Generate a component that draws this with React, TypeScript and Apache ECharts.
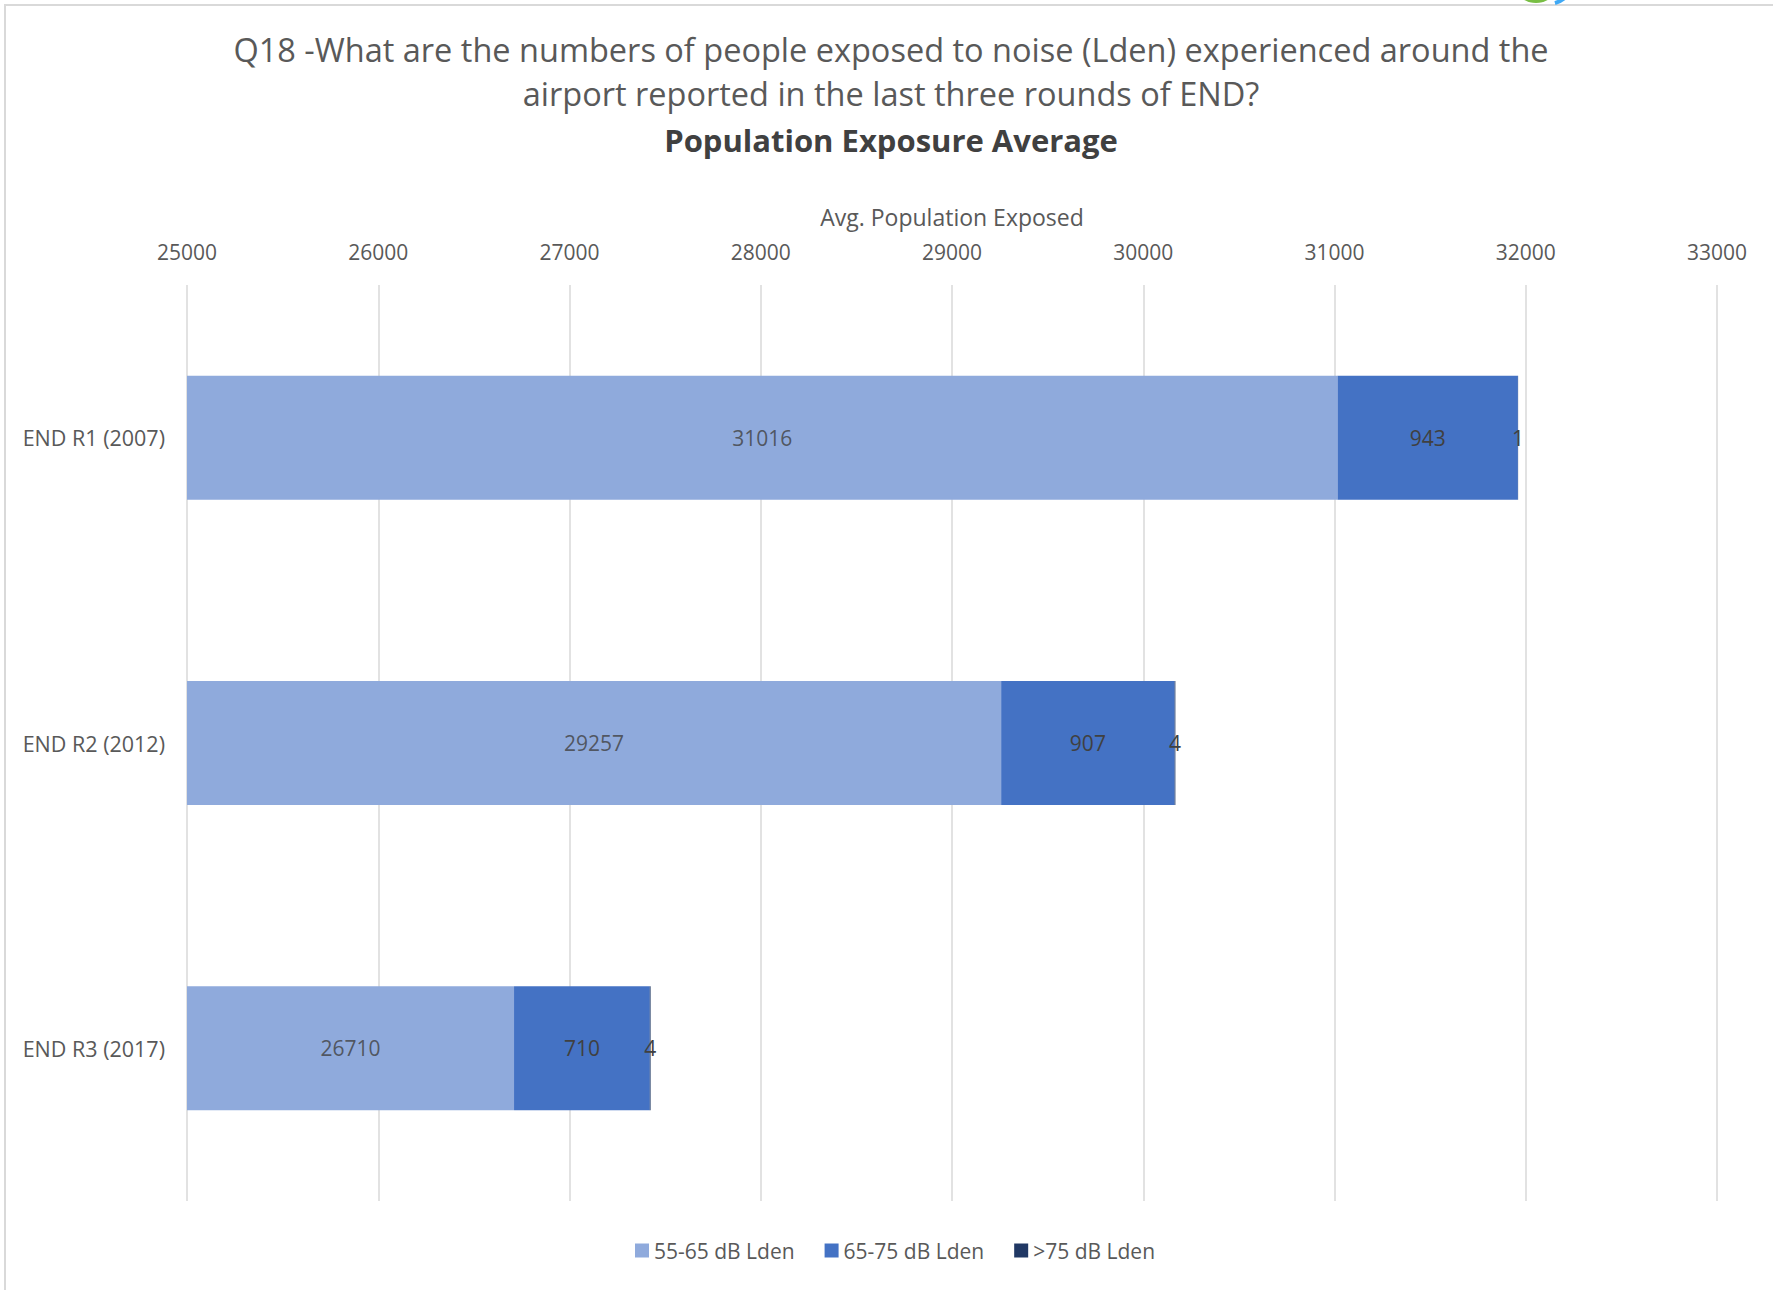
import React, { useEffect, useRef } from "react";
import * as echarts from "echarts";

const categories = ["END R1 (2007)", "END R2 (2012)", "END R3 (2017)"];
const seriesNames = ["55-65 dB Lden", "65-75 dB Lden", ">75 dB Lden"];
const band55to65 = [31016, 29257, 26710];
const band65to75 = [943, 907, 710];
const bandOver75 = [1, 4, 4];
const axisTicks = [25000, 26000, 27000, 28000, 29000, 30000, 31000, 32000, 33000];

const titleLine1 = "Q18 -What are the numbers of people exposed to noise (Lden) experienced around the";
const titleLine2 = "airport reported in the last three rounds of END?";
const titleLine3 = "Population Exposure Average";
const axisName = "Avg. Population Exposed";

const FONT = "'Open Sans', 'Noto Sans', sans-serif";

export default function App() {
  const ref = useRef<HTMLDivElement>(null);
  useEffect(() => {
    if (!ref.current) return;
    const chart = echarts.init(ref.current, null, { renderer: "svg" });
    const axisMin = axisTicks[0];
    const axisMax = axisTicks[axisTicks.length - 1];
    const interval = axisTicks[1] - axisTicks[0];
    const labelStyle = { color: "#404040", fontSize: 21, fontFamily: FONT };
    const option: any = {
      animation: false,
      backgroundColor: "#ffffff",
      textStyle: { fontFamily: FONT },
      graphic: [
        {
          type: "rect",
          z: -10,
          shape: { x: 5, y: 5, width: 1900, height: 1400 },
          style: { fill: "none", stroke: "#d9d9d9", lineWidth: 2 },
        },
        {
          type: "circle",
          shape: { cx: 1536, cy: -21, r: 24 },
          style: { fill: "#78be43" },
        },
        {
          type: "arc",
          shape: { cx: 1548, cy: -22, r: 26, startAngle: 0.2, endAngle: 1.3 },
          style: { stroke: "#3fa9f5", lineWidth: 4, fill: "none" },
        },
        {
          type: "text",
          x: 891,
          y: 49,
          style: {
            text: titleLine1,
            font: `32.5px ${FONT}`,
            fill: "#595959",
            textAlign: "center",
            textVerticalAlign: "middle",
          },
        },
        {
          type: "text",
          x: 891,
          y: 93,
          style: {
            text: titleLine2,
            font: `32.5px ${FONT}`,
            fill: "#595959",
            textAlign: "center",
            textVerticalAlign: "middle",
          },
        },
        {
          type: "text",
          x: 891,
          y: 140,
          style: {
            text: titleLine3,
            font: `bold 31px ${FONT}`,
            fill: "#404040",
            textAlign: "center",
            textVerticalAlign: "middle",
          },
        },
      ],
      grid: { left: 187, right: 56, top: 285, bottom: 89, containLabel: false },
      xAxis: {
        type: "value",
        position: "top",
        min: axisMin,
        max: axisMax,
        interval: interval,
        name: axisName,
        nameLocation: "middle",
        nameGap: 57,
        nameTextStyle: { color: "#595959", fontSize: 23, fontFamily: FONT },
        axisLine: { show: false },
        axisTick: { show: false },
        axisLabel: {
          color: "#595959",
          fontSize: 21,
          fontFamily: FONT,
          margin: 23,
          formatter: (v: number) => String(v),
        },
        splitLine: { show: true, lineStyle: { color: "#d9d9d9", width: 1.5 } },
      },
      yAxis: {
        type: "category",
        data: categories,
        inverse: true,
        axisLine: { show: false },
        axisTick: { show: false },
        axisLabel: { color: "#595959", fontSize: 21.5, fontFamily: FONT, margin: 22 },
        splitLine: { show: false },
      },
      legend: {
        data: seriesNames,
        bottom: 24,
        left: 630,
        itemWidth: 14,
        itemHeight: 14,
        itemGap: 30,
        icon: "rect",
        textStyle: { color: "#595959", fontSize: 21, fontFamily: FONT, padding: [0, 0, 0, 0] },
      },
      series: [
        {
          name: seriesNames[0],
          type: "bar",
          stack: "total",
          barWidth: "40.6%",
          clip: true,
          itemStyle: { color: "#8faadc" },
          label: { show: false },
          data: band55to65,
        },
        {
          name: seriesNames[1],
          type: "bar",
          stack: "total",
          clip: true,
          itemStyle: { color: "#4472c4" },
          label: { show: true, position: "inside", ...labelStyle },
          data: band65to75,
        },
        {
          name: seriesNames[2],
          type: "bar",
          stack: "total",
          clip: true,
          itemStyle: { color: "#203864" },
          label: { show: true, position: "inside", ...labelStyle },
          data: bandOver75,
        },
        {
          name: "labels",
          type: "scatter",
          symbolSize: 0,
          silent: true,
          z: 10,
          label: {
            show: true,
            position: "inside",
            ...labelStyle,
            formatter: (p: any) => String(band55to65[p.dataIndex]),
          },
          data: band55to65.map((v, i) => [(axisMin + v) / 2, i]),
        },
      ],
    };
    chart.setOption(option);
    return () => chart.dispose();
  }, []);
  return (
    <div
      ref={ref}
      style={{ position: "fixed", left: 0, top: 0, width: 1773, height: 1290, background: "#fff" }}
    />
  );
}
